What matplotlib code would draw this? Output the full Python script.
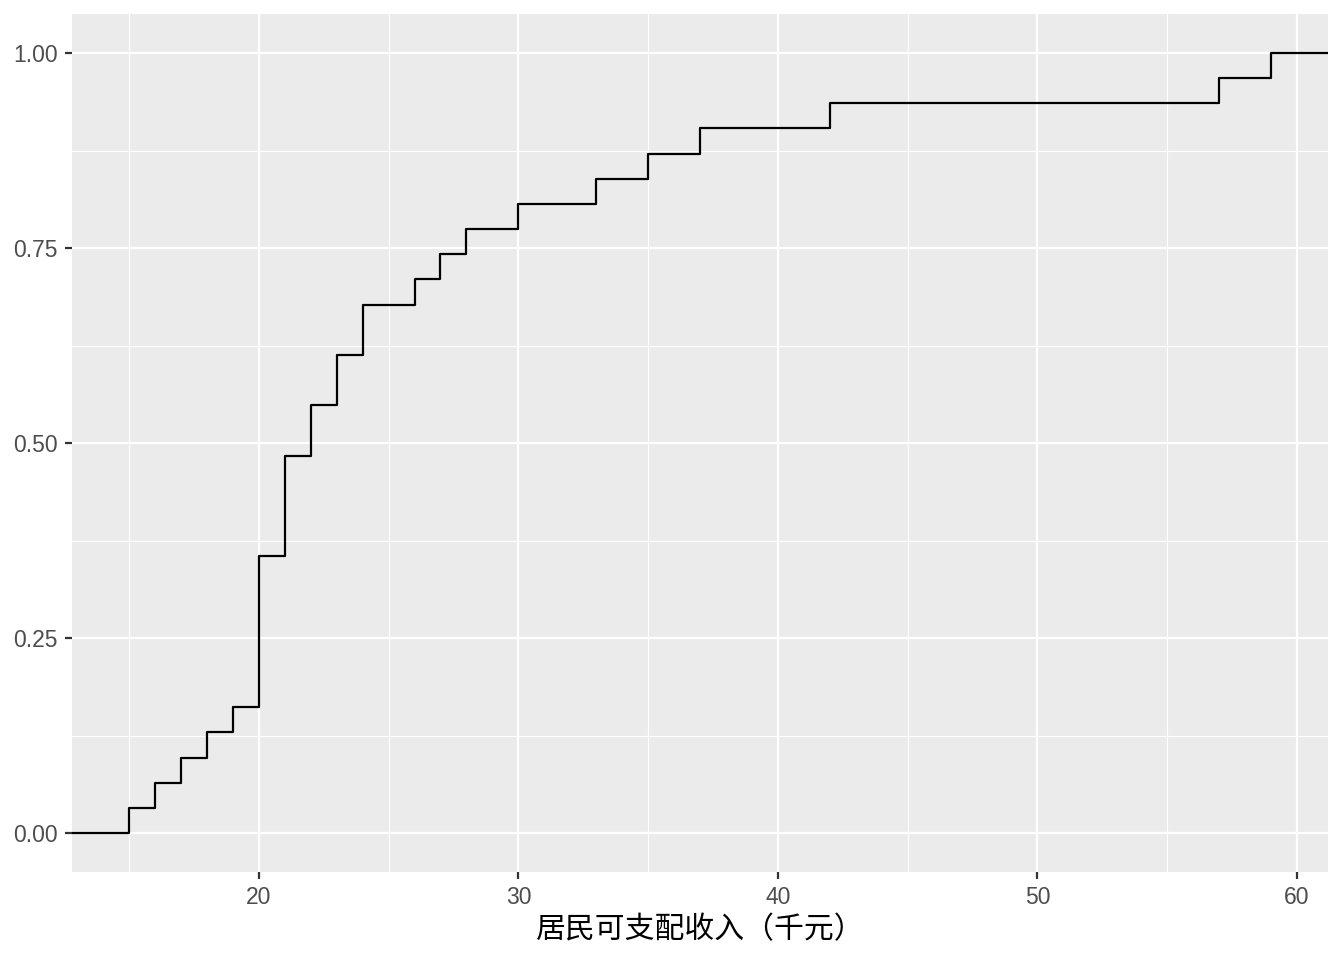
import numpy as np
import matplotlib.pyplot as plt

# disposable income (thousand yuan), 31 observations read from the step heights
income = [15, 16, 17, 18, 19,
          20, 20, 20, 20, 20, 20,
          21, 21, 21, 21,
          22, 22, 23, 23, 24, 24,
          26, 27, 28, 30, 33, 35, 37, 42, 57, 59]
xticks = [20, 30, 40, 50, 60]
yticks = [0.0, 0.25, 0.5, 0.75, 1.0]
ytick_labels = ['0.00', '0.25', '0.50', '0.75', '1.00']
xlabel = '居民可支配收入（千元）'

vals, counts = np.unique(income, return_counts=True)
cum = np.cumsum(counts) / len(income)

span = max(income) - min(income)
xlim = (min(income) - 0.05 * span, max(income) + 0.05 * span)
ylim = (-0.05, 1.05)

fig = plt.figure(figsize=(13.44, 9.6), dpi=100)
ax = fig.add_axes([72 / 1344, 88 / 960, 1256 / 1344, 858 / 960])
ax.set_facecolor('#EBEBEB')

xs = np.concatenate([[xlim[0]], vals, [xlim[1]]])
ys = np.concatenate([[0.0], cum, [1.0]])
ax.step(xs, ys, where='post', color='black', lw=1.6, zorder=3)

ax.set_xlim(xlim)
ax.set_ylim(ylim)
ax.set_xticks(xticks)
ax.set_yticks(yticks)
ax.set_yticklabels(ytick_labels)
ax.set_xticks([15, 25, 35, 45, 55], minor=True)
ax.set_yticks([0.125, 0.375, 0.625, 0.875], minor=True)
ax.grid(which='major', color='white', lw=1.6, zorder=0)
ax.grid(which='minor', color='white', lw=0.8, zorder=0)
ax.set_axisbelow(True)
for s in ax.spines.values():
    s.set_visible(False)

ax.tick_params(which='major', length=5, width=1.6, color='#333333',
               labelsize=16.5, labelcolor='#4D4D4D', pad=5)
ax.tick_params(which='minor', length=0)
for lab in ax.get_xticklabels() + ax.get_yticklabels():
    lab.set_family(['Liberation Sans', 'DejaVu Sans'])

ax.set_xlabel(xlabel, fontsize=21.5, family=['Noto Sans CJK SC', 'DejaVu Sans'],
              color='black', labelpad=4)

fig.savefig('out.png', dpi=100)
